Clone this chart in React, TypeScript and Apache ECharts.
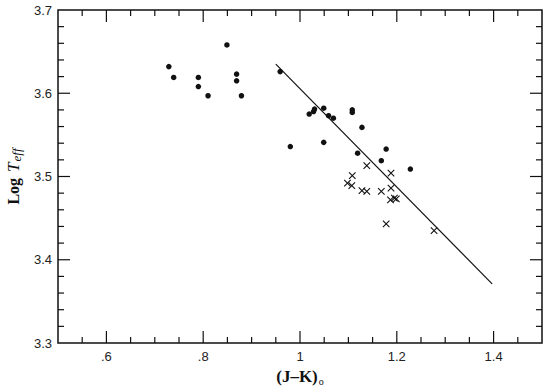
import React, { useEffect, useRef } from "react";
import * as echarts from "echarts";

// Filled dots: (J-K)o and log Teff
const dotX = [0.729, 0.739, 0.79, 0.79, 0.81, 0.849, 0.869, 0.869, 0.879, 0.959, 1.019, 1.028, 1.03, 1.049, 1.059, 1.069, 1.108, 1.108, 1.128, 0.98, 1.049, 1.119, 1.178, 1.168, 1.228];
const dotY = [3.632, 3.619, 3.619, 3.608, 3.597, 3.658, 3.623, 3.615, 3.597, 3.626, 3.575, 3.578, 3.581, 3.582, 3.573, 3.57, 3.58, 3.577, 3.559, 3.536, 3.541, 3.528, 3.533, 3.519, 3.509];

// Crosses
const crossX = [1.138, 1.108, 1.098, 1.107, 1.128, 1.138, 1.168, 1.188, 1.188, 1.187, 1.195, 1.199, 1.178, 1.277];
const crossY = [3.513, 3.501, 3.492, 3.489, 3.483, 3.482, 3.482, 3.504, 3.486, 3.472, 3.474, 3.473, 3.443, 3.435];

// Fitted line endpoints
const lineX = [0.95, 1.397];
const lineY = [3.635, 3.371];

// Axis ranges and ticks
const X_MIN = 0.5, X_MAX = 1.5, Y_MIN = 3.3, Y_MAX = 3.7;
const xLabelTicks = [0.6, 0.8, 1.0, 1.2, 1.4];
const xMinorTicks = [0.55, 0.65, 0.7, 0.75, 0.85, 0.9, 0.95, 1.05, 1.1, 1.15, 1.25, 1.3, 1.35, 1.45];
const yMajorTicks = [3.4, 3.5, 3.6];
const yMinorTicks = [3.32, 3.34, 3.36, 3.38, 3.42, 3.44, 3.46, 3.48, 3.52, 3.54, 3.56, 3.58, 3.62, 3.64, 3.66, 3.68];

const INK = "#111";
const MAJOR = 12;
const MINOR = 6;
const TW = 1.2;

export default function App() {
  const ref = useRef<HTMLDivElement>(null);
  useEffect(() => {
    if (!ref.current) return;
    const chart = echarts.init(ref.current, undefined, { renderer: "svg" });

    // Tick marks drawn as rect symbols placed by the axes' scales
    const tick = (data: number[][], size: number[], offset: number[]) => ({
      type: "scatter", silent: true, clip: false, z: 4,
      symbol: "rect", symbolSize: size, symbolOffset: offset,
      data,
      itemStyle: { color: INK, opacity: 1 },
      emphasis: { disabled: true },
    });
    const xb = (vals: number[]) => vals.map((v) => [v, Y_MIN]);
    const xt = (vals: number[]) => vals.map((v) => [v, Y_MAX]);
    const yl = (vals: number[]) => vals.map((v) => [X_MIN, v]);
    const yr = (vals: number[]) => vals.map((v) => [X_MAX, v]);

    const option: any = {
      animation: false,
      grid: {
        left: 58, top: 10, right: 18, bottom: 44,
        show: true, borderColor: INK, borderWidth: 1.5, backgroundColor: "transparent",
        outerBoundsMode: "none", containLabel: false,
      },
      xAxis: {
        type: "value", min: X_MIN, max: X_MAX, interval: 0.1,
        axisLine: { show: false }, axisTick: { show: false }, splitLine: { show: false },
        axisLabel: {
          customValues: xLabelTicks, margin: 7, color: "#222", fontSize: 13,
          fontFamily: "Liberation Sans, Arial, sans-serif",
          formatter: (v: number) => String(+v.toFixed(1)).replace(/^0/, ""),
        },
        name: "{b|(J–K)}{s|o}", nameLocation: "middle", nameGap: 22,
        nameTextStyle: {
          rich: {
            b: { fontFamily: "Liberation Serif, serif", fontWeight: "bold", fontSize: 17, color: INK },
            s: { fontFamily: "Liberation Serif, serif", fontSize: 10, color: INK, padding: [10, 0, 0, 1] },
          },
        },
      },
      yAxis: {
        type: "value", min: Y_MIN, max: Y_MAX, interval: 0.1,
        axisLine: { show: false }, axisTick: { show: false }, splitLine: { show: false },
        axisLabel: {
          margin: 6, color: "#222", fontSize: 13,
          fontFamily: "Liberation Sans, Arial, sans-serif",
          formatter: (v: number) => v.toFixed(1),
        },
        name: "{b|Log}{i|T}{s|eff}", nameLocation: "middle", nameGap: 33,
        nameTextStyle: {
          rich: {
            b: { fontFamily: "Liberation Serif, serif", fontWeight: "bold", fontSize: 16, color: INK, padding: [0, 6, 0, 0] },
            i: { fontFamily: "Liberation Serif, serif", fontStyle: "italic", fontSize: 17, color: INK },
            s: { fontFamily: "Liberation Serif, serif", fontStyle: "italic", fontSize: 13, color: INK, padding: [7, 0, 0, 1] },
          },
        },
      },
      series: [
        tick(xb(xLabelTicks), [TW, MAJOR], [0, -MAJOR / 2]),
        tick(xt(xLabelTicks), [TW, MAJOR], [0, MAJOR / 2]),
        tick(xb(xMinorTicks), [TW, MINOR], [0, -MINOR / 2]),
        tick(xt(xMinorTicks), [TW, MINOR], [0, MINOR / 2]),
        tick(yl(yMajorTicks), [MAJOR, TW], [MAJOR / 2, 0]),
        tick(yr(yMajorTicks), [MAJOR, TW], [-MAJOR / 2, 0]),
        tick(yl(yMinorTicks), [MINOR, TW], [MINOR / 2, 0]),
        tick(yr(yMinorTicks), [MINOR, TW], [-MINOR / 2, 0]),
        {
          type: "line", showSymbol: false, symbol: "none",
          data: lineX.map((x, i) => [x, lineY[i]]),
          lineStyle: { color: INK, width: 1.2 },
        },
        {
          type: "scatter", symbol: "circle", symbolSize: 5.5,
          data: dotX.map((x, i) => [x, dotY[i]]),
          itemStyle: { color: INK, opacity: 1 },
        },
        {
          type: "scatter",
          symbol: "path://M0,0L10,10M10,0L0,10", symbolSize: 6.5,
          data: crossX.map((x, i) => [x, crossY[i]]),
          itemStyle: { color: "transparent", borderColor: INK, borderWidth: 1.1, opacity: 1 },
        },
      ],
    };
    chart.setOption(option);
    return () => chart.dispose();
  }, []);
  return (
    <div
      ref={ref}
      style={{ position: "fixed", left: 0, top: 0, width: 560, height: 387, background: "#fff" }}
    />
  );
}
